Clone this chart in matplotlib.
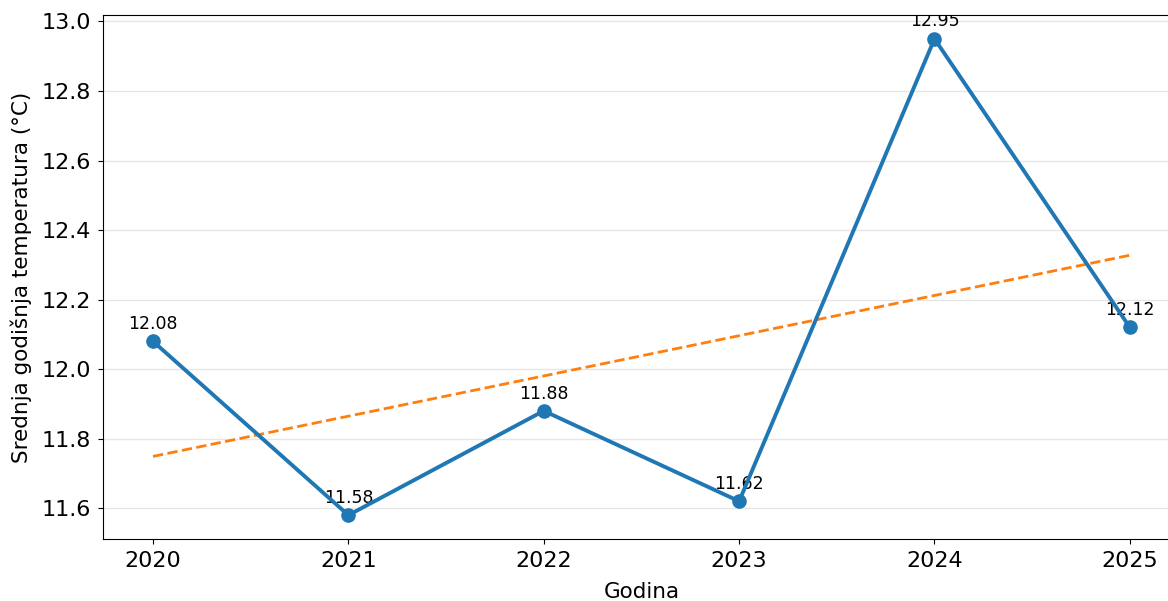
import matplotlib
matplotlib.use("Agg")
import matplotlib.pyplot as plt
import numpy as np

years = [2020, 2021, 2022, 2023, 2024, 2025]
temps = [12.08, 11.58, 11.88, 11.62, 12.95, 12.12]
xlabel = "Godina"
ylabel = "Srednja godišnja temperatura (°C)"

fig = plt.figure(figsize=(11.68, 6.01), dpi=100)
ax = fig.add_axes([103/1168, 1-539/601, (1168-103)/1168 + 0.01, (539-15)/601])

x = np.arange(len(years))
ax.plot(x, temps, color="#1f77b4", lw=2.8, marker="o", ms=9.5, zorder=3)
coef = np.polyfit(x, temps, 1)
ax.plot(x, np.polyval(coef, x), color="#ff7f0e", lw=2, ls="--", zorder=2)
for xi, t in zip(x, temps):
    ax.annotate(f"{t:.2f}", (xi, t), xytext=(0, 6), textcoords="offset points",
                ha="center", va="bottom", fontsize=12.5, zorder=1, clip_on=True)

ax.set_xticks(x)
ax.set_xticklabels([str(y) for y in years])
ax.set_xlim(-0.256, 5.255)
ax.set_yticks([11.6, 11.8, 12.0, 12.2, 12.4, 12.6, 12.8, 13.0])
ax.set_ylim(11.5115, 13.0185)
ax.tick_params(labelsize=16, pad=5)
ax.set_xlabel(xlabel, fontsize=15.5, labelpad=8)
ax.set_ylabel(ylabel, fontsize=15.5, labelpad=7)
ax.grid(axis="y", color="#e6e6e6", lw=1)
ax.set_axisbelow(True)

fig.savefig("out.png", dpi=100)
